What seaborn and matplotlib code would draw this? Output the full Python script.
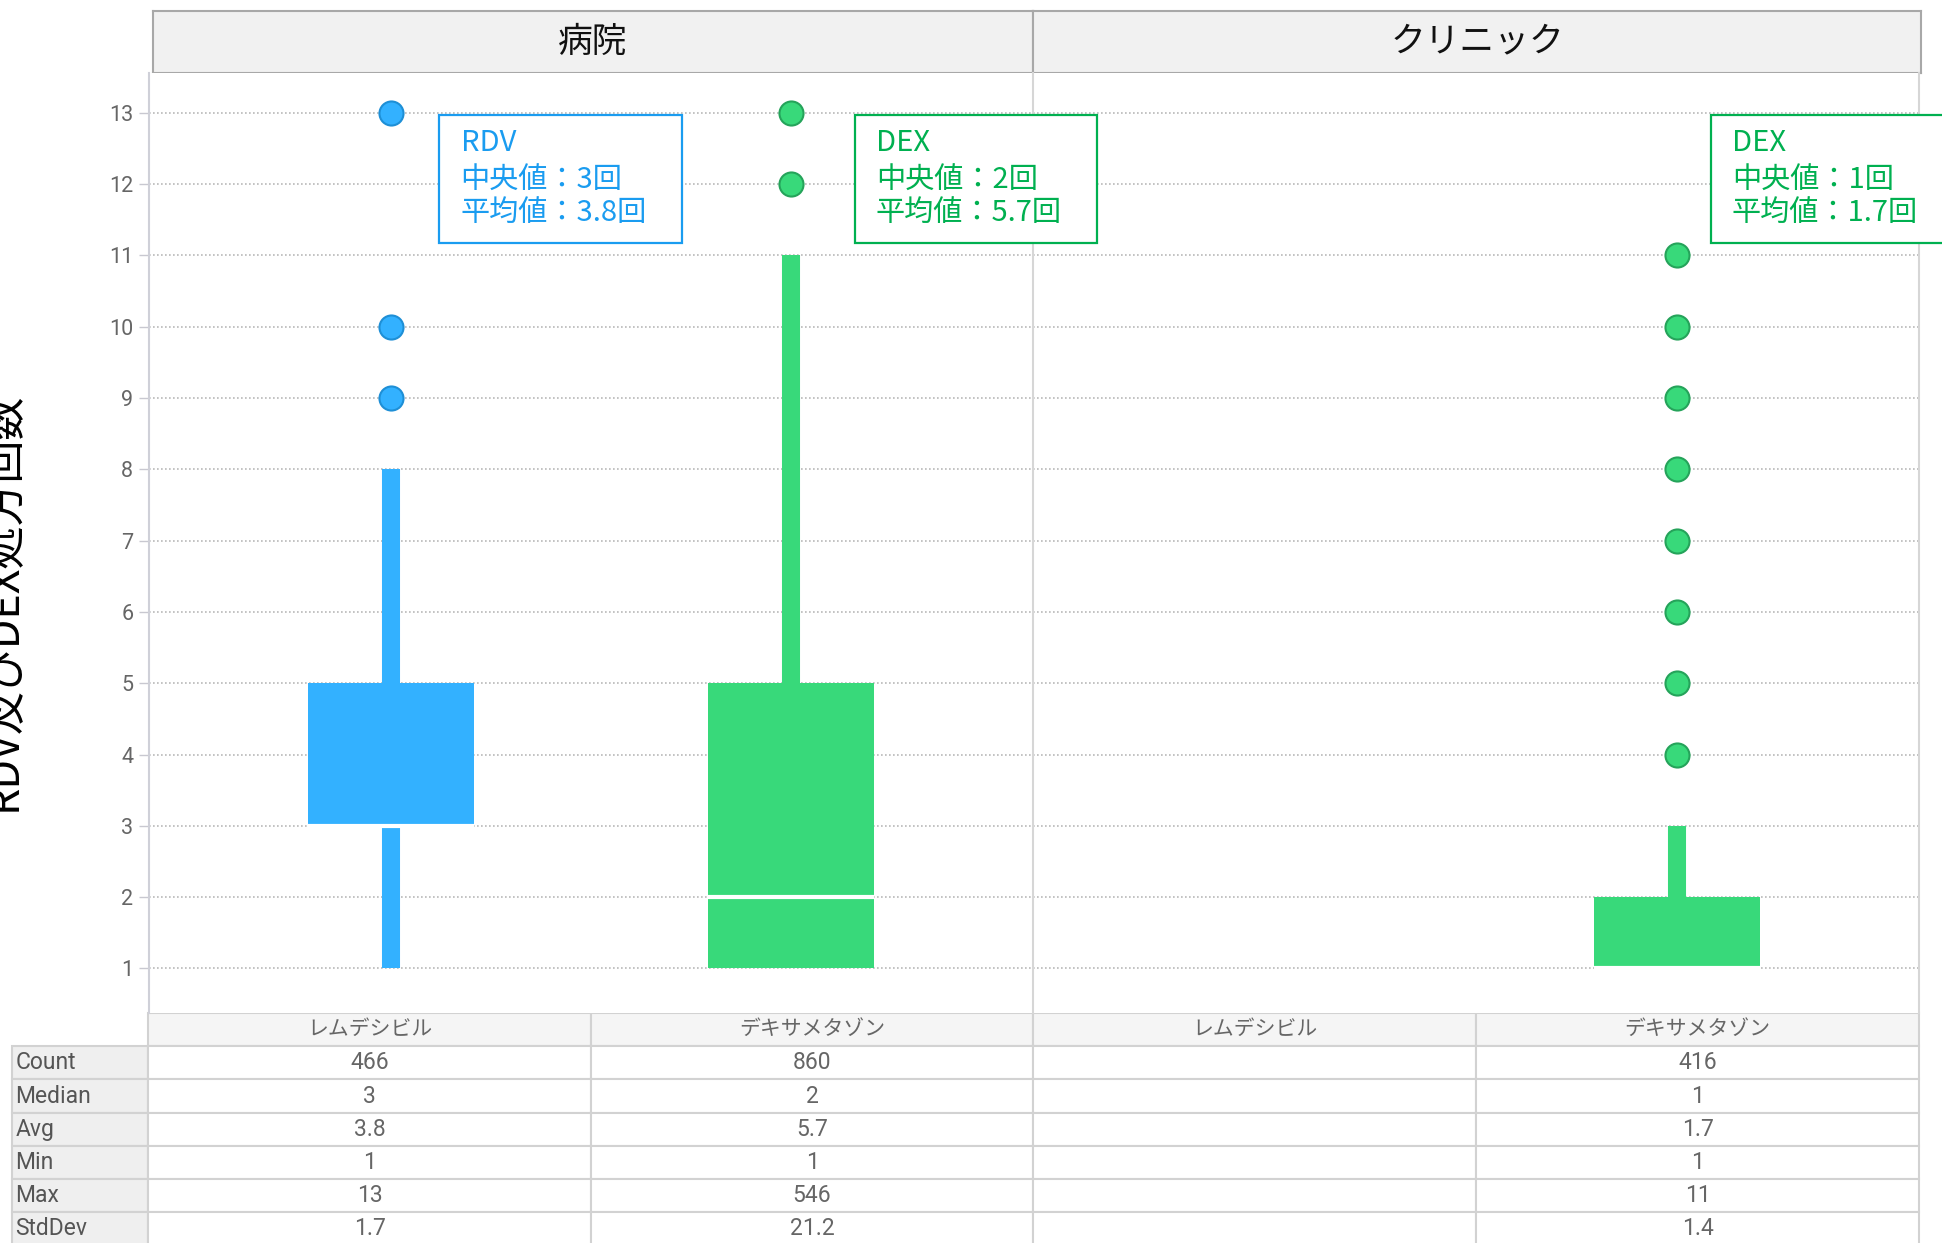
import numpy as np
import pandas as pd
import matplotlib.pyplot as plt
import matplotlib.patches as mpatches
import seaborn as sns

# values
settings = ['病院', 'クリニック']
drugs = ['レムデシビル', 'デキサメタゾン']
drug_short = ['RDV', 'DEX']

# box stats: whisker low, q1, median, q3, whisker high
hosp_rdv_box = [1, 3, 3, 5, 8]
hosp_dex_box = [1, 1, 2, 5, 11]
clin_dex_box = [1, 1, 1, 2, 3]

# outliers that fall inside the visible range
hosp_rdv_out = [9, 10, 13]
hosp_dex_out = [12, 13]
clin_dex_out = [4, 5, 6, 7, 8, 9, 10, 11]

# summary table under the plot
stat_names = ['Count', 'Median', 'Avg', 'Min', 'Max', 'StdDev']
hosp_rdv_tbl = ['466', '3', '3.8', '1', '13', '1.7']
hosp_dex_tbl = ['860', '2', '5.7', '1', '546', '21.2']
clin_rdv_tbl = ['', '', '', '', '', '']
clin_dex_tbl = ['416', '1', '1.7', '1', '11', '1.4']

y_ticks = list(range(1, 14))
y_label = 'RDV及びDEX処方回数'

colors = {'レムデシビル': '#33b1ff', 'デキサメタゾン': '#38d97a'}
edge_colors = {'レムデシビル': '#1e8fd6', 'デキサメタゾン': '#25a35a'}
note_colors = {'レムデシビル': '#1a9cf0', 'デキサメタゾン': '#00b050'}

# one entry per drawn box: (setting, drug, stats, outliers, table column)
groups = [
    ('病院', 'レムデシビル', hosp_rdv_box, hosp_rdv_out, hosp_rdv_tbl),
    ('病院', 'デキサメタゾン', hosp_dex_box, hosp_dex_out, hosp_dex_tbl),
    ('クリニック', 'デキサメタゾン', clin_dex_box, clin_dex_out, clin_dex_tbl),
]
# where the note box sits, relative to its box (x offset in category units)
note_offset = {('病院', 'レムデシビル'): 0.12,
               ('病院', 'デキサメタゾン'): 0.158,
               ('クリニック', 'デキサメタゾン'): 0.084}

sns.set_theme(style='white')
plt.rcParams['font.family'] = ['Roboto', 'Noto Sans CJK JP', 'DejaVu Sans']
cjk = ['Noto Sans CJK JP', 'DejaVu Sans']

W, H = 1942, 1243
fig = plt.figure(figsize=(W / 100, H / 100), dpi=100)


def px_axes(x0, y0, x1, y1, **kw):
    return fig.add_axes([x0 / W, 1 - y1 / H, (x1 - x0) / W, (y1 - y0) / H], **kw)


ax_h = px_axes(148.6, 73, 1033, 1013)
ax_c = px_axes(1033, 73, 1919, 1013, sharey=ax_h)
axes = {'病院': ax_h, 'クリニック': ax_c}
ax_h.set_zorder(3)  # note boxes of the left panel overlap the right one
ax_c.set_zorder(2)

for name, ax in axes.items():
    ax.set_xlim(-0.607, 1.604)
    ax.set_ylim(0.376, 13.557)
    ax.set_axisbelow(True)
    ax.grid(axis='y', linestyle=(0, (1, 1.4)), color='#b9b9b9', linewidth=1.2)
    ax.grid(axis='x', visible=False)
    ax.set_xticks([])
    for s in ['top', 'bottom', 'left']:
        ax.spines[s].set_visible(False)
    ax.spines['right'].set_color('#d6d6d6')
    ax.spines['right'].set_linewidth(1.5)

ax_h.spines['left'].set_visible(True)
ax_h.spines['left'].set_color('#cfd0d8')
ax_h.spines['left'].set_linewidth(1.5)
ax_h.set_yticks(y_ticks)
ax_h.tick_params(axis='y', length=7, width=1, color='#c8c8d0', pad=4,
                 labelsize=15.5, labelcolor='#666666', left=True)
ax_c.tick_params(axis='y', left=False, labelleft=False)

for setting, drug, st, outs, tbl in groups:
    ax = axes[setting]
    pos = drugs.index(drug)
    c = colors[drug]
    stats = [dict(whislo=st[0], q1=st[1], med=st[2], q3=st[3], whishi=st[4], fliers=[])]
    ax.bxp(stats, positions=[pos], widths=0.415, patch_artist=True,
           showfliers=False, showcaps=False, manage_ticks=False,
           boxprops=dict(facecolor=c, edgecolor='none', linewidth=0),
           whiskerprops=dict(color=c, linewidth=13, solid_capstyle='butt'),
           medianprops=dict(color='white', linewidth=3, solid_capstyle='butt'))

    df = pd.DataFrame({'x': [pos] * len(outs), 'value': outs})
    sns.scatterplot(data=df, x='x', y='value', ax=ax, s=300, color=c,
                    edgecolor=edge_colors[drug], linewidth=1.5, zorder=4, legend=False)

    # note box with median / average
    nc = note_colors[drug]
    x0 = pos + note_offset[(setting, drug)]
    top = 12.968
    ax.add_patch(mpatches.Rectangle((x0, top - 1.79), 0.607, 1.79, facecolor='white',
                                    edgecolor=nc, linewidth=1.6, zorder=6, clip_on=False))
    lines = [drug_short[drugs.index(drug)], f'中央値：{tbl[1]}回', f'平均値：{tbl[2]}回']
    for dy, line in zip([0.51, 1.03, 1.49], lines):
        ax.text(x0 + 0.053, top - dy, line, color=nc, fontsize=21, family=cjk,
                va='baseline', ha='left', zorder=7, clip_on=False)

ax_h.set_xlabel('')
ax_c.set_xlabel('')
ax_h.set_ylabel('')
ax_c.set_ylabel('')

# facet headers
for setting, (x0, x1) in zip(settings, [(152.7, 1033), (1033, 1921)]):
    hax = px_axes(x0, 10.7, x1, 73.3)
    hax.set_facecolor('#f1f1f1')
    hax.set_xticks([])
    hax.set_yticks([])
    for s in hax.spines.values():
        s.set_visible(True)
        s.set_color('#a8a8a8')
        s.set_linewidth(1.5)
    hax.text(0.5, 0.5, setting, ha='center', va='center', fontsize=25,
             family=cjk, color='#111111', transform=hax.transAxes)

fig.text(26 / W, 0.516, y_label, rotation=90, fontsize=31, family=cjk,
         ha='right', va='center', color='black')

# summary table
tax = px_axes(12, 1013, 1919, 1245.5)
tax.axis('off')
cols = [hosp_rdv_tbl, hosp_dex_tbl, clin_rdv_tbl, clin_dex_tbl]
cell_text = [[stat_names[i]] + [col[i] for col in cols] for i in range(len(stat_names))]
col_labels = [''] + drugs + drugs
tbl = tax.table(cellText=cell_text, colLabels=col_labels,
                colWidths=[136, 443, 442, 443, 443], bbox=[0, 0, 1, 1], cellLoc='center')
tbl.auto_set_font_size(False)
tbl.set_fontsize(16.5)
for (r, c), cell in tbl.get_celld().items():
    cell.set_edgecolor('#d2d2d2')
    cell.set_linewidth(1.5)
    txt = cell.get_text()
    txt.set_color('#666666')
    txt.set_fontfamily(['Roboto', 'Noto Sans CJK JP'])
    if r == 0:
        cell.set_facecolor('#f5f5f5')
        txt.set_fontsize(15)
    if c == 0:
        cell.set_facecolor('#efefef')
        cell.PAD = 0.025
        txt.set_horizontalalignment('left')
        txt.set_color('#555555')
    if r == 0 and c == 0:
        cell.set_visible(False)

fig.savefig('out.png', dpi=100)
